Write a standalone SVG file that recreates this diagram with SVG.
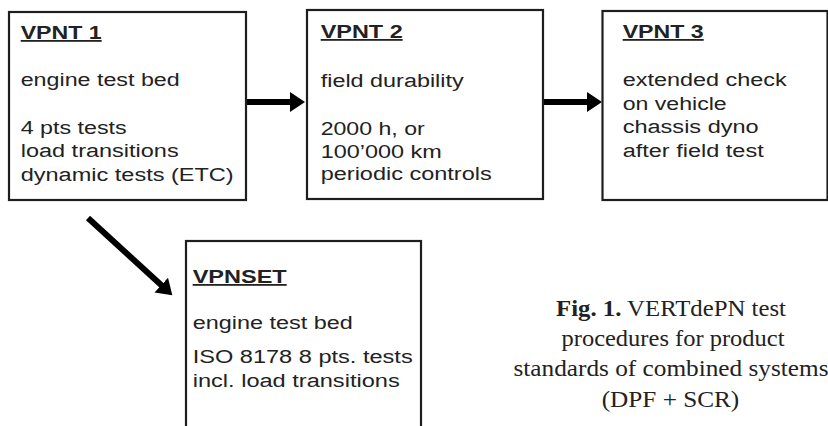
<svg xmlns="http://www.w3.org/2000/svg" width="828" height="426" viewBox="0 0 828 426">
<style>
.box{fill:#fff;stroke:#1e1e1e;stroke-width:2.2}
.t{font-family:"Liberation Sans",Arial,sans-serif;font-size:18px;fill:#222}
.h{font-weight:bold;text-decoration:underline}
.cap{font-family:"Liberation Serif","Times New Roman",serif;font-size:23px;fill:#222;text-anchor:middle}
.arr{stroke:#000;stroke-width:6;fill:none}
</style>
<defs>
<marker id="ah" markerUnits="userSpaceOnUse" markerWidth="18" markerHeight="22" refX="1" refY="10" orient="auto">
<path d="M0,0 L15,10 L0,20 z" fill="#000"/>
</marker>
</defs>
<rect width="828" height="426" fill="#fff"/>
<g id="connectors">
<line class="arr" x1="246" y1="102" x2="291" y2="102" marker-end="url(#ah)"/>
<line class="arr" x1="543" y1="102" x2="588" y2="102" marker-end="url(#ah)"/>
<line class="arr" x1="88" y1="218" x2="162" y2="285.8" marker-end="url(#ah)"/>
</g>
<g id="vpnt1">
<rect class="box" x="9" y="12" width="237" height="188"/>
<text class="t h" x="20.7" y="39" textLength="81" lengthAdjust="spacingAndGlyphs">VPNT 1</text>
<text class="t" x="20.7" y="86" textLength="159" lengthAdjust="spacingAndGlyphs">engine test bed</text>
<text class="t" x="20.7" y="134" textLength="106" lengthAdjust="spacingAndGlyphs">4 pts tests</text>
<text class="t" x="20.7" y="157" textLength="158" lengthAdjust="spacingAndGlyphs">load transitions</text>
<text class="t" x="20.7" y="181" textLength="213" lengthAdjust="spacingAndGlyphs">dynamic tests (ETC)</text>
</g>
<g id="vpnt2">
<rect class="box" x="307" y="10" width="236" height="189"/>
<text class="t h" x="320.7" y="38" textLength="82" lengthAdjust="spacingAndGlyphs">VPNT 2</text>
<text class="t" x="320.7" y="87" textLength="143" lengthAdjust="spacingAndGlyphs">field durability</text>
<text class="t" x="320.7" y="135" textLength="104" lengthAdjust="spacingAndGlyphs">2000 h, or</text>
<text class="t" x="320.7" y="158" textLength="121" lengthAdjust="spacingAndGlyphs">100’000 km</text>
<text class="t" x="320.7" y="180" textLength="171" lengthAdjust="spacingAndGlyphs">periodic controls</text>
</g>
<g id="vpnt3">
<rect class="box" x="602.5" y="11" width="225" height="189"/>
<text class="t h" x="622.7" y="38" textLength="81" lengthAdjust="spacingAndGlyphs">VPNT 3</text>
<text class="t" x="622.7" y="86" textLength="164" lengthAdjust="spacingAndGlyphs">extended check</text>
<text class="t" x="622.7" y="110" textLength="104" lengthAdjust="spacingAndGlyphs">on vehicle</text>
<text class="t" x="622.7" y="133" textLength="136" lengthAdjust="spacingAndGlyphs">chassis dyno</text>
<text class="t" x="622.7" y="157" textLength="141" lengthAdjust="spacingAndGlyphs">after field test</text>
</g>
<g id="vpnset">
<rect class="box" x="186" y="241" width="235" height="200"/>
<text class="t h" x="192.7" y="283" textLength="94" lengthAdjust="spacingAndGlyphs">VPNSET</text>
<text class="t" x="192.7" y="329" textLength="160" lengthAdjust="spacingAndGlyphs">engine test bed</text>
<text class="t" x="192.7" y="363" textLength="220" lengthAdjust="spacingAndGlyphs">ISO 8178 8 pts. tests</text>
<text class="t" x="192.7" y="387" textLength="207" lengthAdjust="spacingAndGlyphs">incl. load transitions</text>
</g>
<g id="caption">
<text class="cap" x="671" y="316" textLength="230" lengthAdjust="spacingAndGlyphs"><tspan font-weight="bold">Fig. 1.</tspan> VERTdePN test</text>
<text class="cap" x="673" y="346" textLength="223" lengthAdjust="spacingAndGlyphs">procedures for product</text>
<text class="cap" x="671" y="376" textLength="315" lengthAdjust="spacingAndGlyphs">standards of combined systems</text>
<text class="cap" x="670.5" y="407" textLength="137.6" lengthAdjust="spacingAndGlyphs">(DPF + SCR)</text>
</g>
</svg>
